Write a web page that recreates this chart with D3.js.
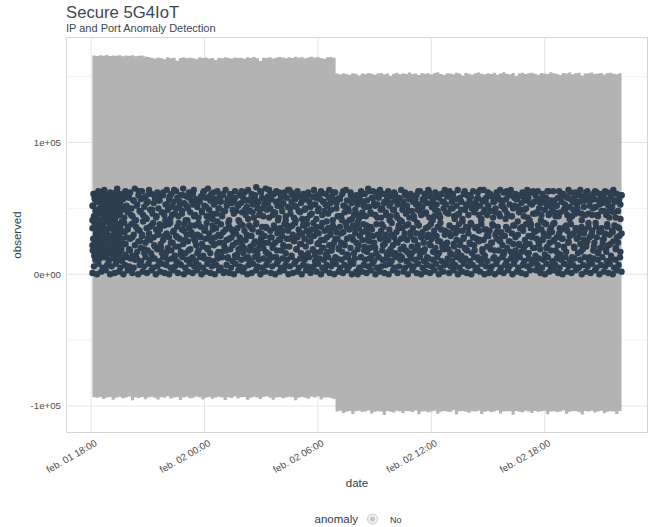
<!DOCTYPE html>
<html>
<head>
<meta charset="utf-8">
<script src="https://cdn.jsdelivr.net/npm/d3@7"></script>
<style>
    html, body { margin: 0; padding: 0; background: #fff; }
    svg { display: block; font-family: "Liberation Sans", Arial, sans-serif; }
</style>
</head>
<body>
<div id="chart"></div>
<script>
"use strict";

// ------------------------- Data (values in thousands) -------------------------

const seriesStart = new Date(2021, 1, 1, 18, 4);
const bandStepTime = new Date(2021, 1, 2, 6, 56);
const seriesEnd = new Date(2021, 1, 2, 22, 4);
const earlyEnd = new Date(2021, 1, 1, 19, 40);

const xTickTimes = [
    new Date(2021, 1, 1, 18, 0),
    new Date(2021, 1, 2, 0, 0),
    new Date(2021, 1, 2, 6, 0),
    new Date(2021, 1, 2, 12, 0),
    new Date(2021, 1, 2, 18, 0)
];
const xTickLabels = ['feb. 01 18:00', 'feb. 02 00:00', 'feb. 02 06:00', 'feb. 02 12:00', 'feb. 02 18:00'];

const yTickValues = [100000, 0, -100000];
const yTickLabels = ['1e+05', '0e+00', '-1e+05'];
const yMinorValues = [150000, 50000, -50000];

const upperBeforeK = [
    166.0, 165.7, 166.2, 165.9, 166.4, 165.6, 166.1, 165.8, 166.3, 165.5, 166.0, 165.9, 166.2, 165.4, 165.8, 166.1, 165.3, 164.9,
    164.4, 163.7, 164.5, 164.1, 163.2, 164.6, 164.0, 164.4, 162.1, 164.2, 164.7, 163.9, 164.3, 164.0, 163.4, 164.6, 164.1, 164.5,
    163.8, 164.2, 162.6, 164.4, 164.0, 164.7, 164.2, 163.7, 164.5, 164.1, 164.3, 163.5, 164.6, 164.2, 164.8, 164.0, 161.9, 164.4,
    164.1, 164.6, 163.8, 164.3, 164.9, 164.5, 164.0, 164.6, 164.2, 165.0, 164.4, 164.7, 163.9, 164.5, 165.1, 164.3, 164.8, 164.2,
    163.6, 164.6, 164.9, 164.4, 164.7
];
const upperAfterK = [
    152.3, 151.6, 152.5, 152.0, 151.4, 152.6, 152.2, 150.8, 152.4, 151.9, 152.7, 152.1, 151.5, 152.3, 152.8, 151.8, 152.4, 150.6,
    152.2, 152.9, 151.7, 152.5, 152.0, 153.1, 151.9, 152.4, 151.3, 152.7, 152.1, 152.5, 151.6, 152.8, 153.3, 152.0, 151.2, 152.6,
    152.3, 151.8, 153.0, 152.4, 150.9, 152.7, 152.2, 151.6, 152.5, 153.2, 152.1, 151.7, 152.6, 152.0, 152.9, 151.4, 152.3, 153.4,
    152.2, 151.8, 152.7, 150.7, 152.4, 152.9, 151.9, 152.5, 153.0, 152.2, 151.5, 152.8, 152.3, 151.9, 153.3, 152.6, 152.0, 151.3,
    152.7, 152.4, 153.1, 151.8, 152.5, 152.9, 150.8, 152.3, 152.6, 153.2, 151.9, 152.4, 152.8, 151.6, 152.5, 153.0, 152.2, 151.7,
    152.6, 152.3
];
const lowerBeforeK = [
    -93.4, -93.8, -93.1, -94.6, -93.5, -93.2, -95.3, -93.7, -93.0, -94.1, -93.6, -92.8, -95.6, -93.4, -93.9, -93.2, -94.8, -93.5,
    -92.9, -93.7, -95.1, -93.3, -93.8, -92.6, -94.3, -93.5, -93.1, -95.4, -93.6, -93.0, -94.0, -93.7, -92.7, -93.4, -95.0, -93.8,
    -93.2, -94.5, -93.5, -92.9, -93.6, -95.5, -93.3, -93.9, -92.8, -94.2, -93.4, -93.1, -95.2, -93.7, -93.0, -93.6, -94.7, -93.2,
    -92.6, -93.8, -95.3, -93.5, -93.1, -94.1, -93.6, -92.9, -93.4, -95.6, -93.8, -93.2, -93.7, -94.4, -93.0, -93.5, -92.7, -95.1,
    -93.6, -93.3, -93.9, -94.6, -93.4
];
const lowerAfterK = [
    -104.1, -103.6, -105.2, -104.3, -103.8, -106.1, -104.0, -103.5, -104.6, -104.2, -103.3, -105.7, -104.4, -103.9, -104.1, -106.8,
    -103.7, -104.3, -104.9, -103.6, -104.2, -105.4, -103.8, -104.0, -104.5, -103.4, -106.3, -104.1, -103.9, -104.7, -104.2, -103.5,
    -105.9, -104.3, -103.8, -104.1, -104.6, -103.2, -106.5, -104.0, -103.7, -104.4, -105.1, -103.9, -104.2, -103.6, -106.0, -104.3,
    -103.8, -104.5, -104.1, -103.4, -105.6, -104.2, -103.9, -104.0, -106.7, -103.7, -104.3, -104.8, -103.5, -104.1, -105.3, -103.8,
    -104.4, -104.0, -103.6, -106.2, -104.2, -103.9, -104.6, -104.1, -103.3, -105.8, -104.3, -103.7, -104.0, -104.5, -106.4, -103.8,
    -104.2, -103.6, -104.9, -104.1, -103.5, -105.5, -104.3, -103.9, -104.2, -106.1, -103.7, -104.0
];

// observed ports, low band (0-13k)
const portsLowK = [
    1, 6, 11, 0, 8, 12, 2, 5, 13, 3, 7, 10, 0, 6, 12, 1, 8, 11, 2, 5, 10, 0, 7, 13, 3, 6, 12, 1, 5, 11,
    12, 0, 7, 10, 2, 6, 13, 1, 8, 11, 3, 5, 12, 0, 6, 10, 2, 8, 13, 1, 7, 11, 0, 5, 12, 3, 6, 10, 1, 8,
    7, 13, 0, 5, 11, 2, 8, 12, 1, 6, 10, 3, 7, 13, 0, 5, 12, 2, 8, 11, 1, 6, 10, 0, 7, 12, 3, 5, 13, 1,
    2, 7, 12, 1, 5, 10, 0, 8, 13, 3, 6, 11, 2, 5, 12, 0, 7, 10, 1, 8, 13, 3, 6, 11, 0, 5, 12, 2, 7, 10,
    11, 1, 6, 13, 0, 8, 10, 2, 5, 12, 3, 7, 11, 0, 6, 13, 1, 8, 10, 2, 5, 12, 0, 7, 11, 3, 6, 13, 1, 5,
    6, 10, 2, 8, 12, 0, 5, 11, 3, 7, 13, 1, 6, 10, 0, 8, 12, 2, 5, 11, 1, 7, 13, 3, 6, 10, 0, 8, 12, 2,
    0, 5, 13, 2, 7, 11, 1, 6, 12, 3, 8, 10, 0, 5, 13, 2, 6, 11, 1, 7, 12, 0, 8, 10, 3, 5, 13, 1, 6, 11,
    13, 2, 5, 10, 0, 7, 12, 3, 6, 11, 1, 8, 13, 0, 5, 10, 2, 7, 12, 1, 6, 11, 3, 8, 13, 0, 5, 10, 2, 7,
    8, 12, 1, 6, 10, 3, 7, 13, 0, 5, 11, 2, 8, 12, 1, 6, 10, 0, 7, 13, 3, 5, 11, 2, 8, 12, 0, 6, 10, 1,
    3, 6, 12, 0, 8, 11, 2, 5, 13, 1, 7, 10, 3, 6, 12, 0, 8, 11, 2, 5, 13, 1, 7, 10, 0, 6, 12, 3, 8, 11,
    10, 3, 7, 12, 1, 5, 11, 0, 8, 13, 2, 6, 10, 3, 7, 12, 1, 5, 11, 0, 8, 13, 2, 6, 10, 1, 7, 12, 3, 5,
    5, 11, 0, 7, 13, 2, 6, 10, 1, 8, 12, 3, 5, 11, 0, 7, 13, 2, 6, 10, 1, 8, 12, 0, 5, 11, 3, 7, 13, 2
];

// observed ports, middle band (13-40k)
const portsMidK = [
    22, 35, 17, 28, 39, 14, 31, 25, 19, 37, 27, 15, 33, 21, 29, 38, 16, 24, 34, 20, 30, 13, 26, 36, 18, 32, 23, 39, 15, 28,
    34, 19, 27, 38, 14, 30, 22, 36, 17, 25, 33, 20, 29, 40, 16, 24, 35, 18, 31, 26, 37, 13, 28, 21, 34, 19, 30, 38, 23, 16,
    26, 37, 15, 31, 20, 28, 39, 18, 24, 33, 14, 29, 36, 21, 27, 17, 34, 23, 38, 16, 30, 25, 35, 19, 32, 13, 27, 37, 22, 30,
    18, 29, 36, 23, 14, 33, 27, 39, 20, 31, 16, 25, 37, 22, 28, 35, 15, 30, 24, 38, 17, 32, 21, 34, 26, 13, 36, 19, 28, 33,
    31, 14, 24, 35, 19, 28, 38, 22, 16, 33, 26, 30, 13, 37, 21, 29, 34, 18, 25, 39, 15, 32, 23, 27, 36, 20, 29, 17, 35, 24,
    15, 33, 28, 20, 37, 24, 13, 31, 26, 35, 18, 29, 22, 38, 16, 27, 33, 21, 36, 14, 30, 25, 39, 19, 28, 34, 23, 16, 31, 37,
    27, 21, 38, 16, 30, 25, 34, 19, 29, 14, 36, 23, 31, 17, 26, 39, 20, 33, 15, 28, 35, 22, 30, 18, 37, 24, 13, 32, 27, 20,
    36, 24, 17, 32, 22, 39, 27, 14, 34, 20, 28, 37, 16, 31, 24, 19, 35, 29, 13, 26, 38, 21, 33, 17, 30, 25, 36, 14, 29, 22,
    20, 38, 30, 13, 27, 33, 18, 36, 23, 30, 15, 26, 34, 19, 39, 22, 28, 16, 32, 24, 37, 14, 27, 35, 21, 31, 18, 26, 38, 15,
    29, 16, 35, 26, 18, 31, 22, 37, 14, 28, 32, 24, 19, 35, 13, 30, 23, 38, 27, 17, 33, 20, 29, 36, 16, 25, 34, 22, 19, 30,
    23, 32, 19, 37, 29, 15, 35, 21, 31, 26, 17, 38, 25, 14, 33, 28, 20, 36, 18, 31, 24, 39, 16, 28, 22, 35, 27, 13, 33, 26,
    38, 17, 26, 14, 34, 21, 29, 33, 19, 24, 37, 13, 30, 27, 36, 18, 25, 32, 22, 15, 29, 36, 20, 34, 25, 17, 31, 23, 37, 18,
    14, 30, 23, 35, 17, 36, 20, 26, 38, 16, 29, 23, 35, 28, 20, 32, 14, 27, 37, 23, 19, 34, 26, 31, 15, 38, 21, 29, 24, 35,
    32, 25, 39, 18, 28, 22, 31, 15, 34, 27, 21, 36, 17, 33, 24, 29, 38, 13, 31, 20, 35, 27, 16, 32, 23, 36, 19, 26, 34, 21,
    25, 36, 13, 29, 33, 18, 24, 39, 28, 16, 32, 20, 35, 23, 27, 31, 17, 36, 22, 30, 14, 33, 25, 37, 19, 28, 24, 35, 17, 31
];

// observed ports, high band (40-66k)
const portsHighK = [
    52, 61, 44, 57, 48, 63, 41, 55, 59, 46, 64, 50, 43, 58, 53, 62, 47, 56, 42, 60, 51, 65, 45, 54, 49, 61, 57, 43, 63, 52,
    47, 58, 62, 50, 44, 56, 65, 41, 53, 60, 48, 57, 63, 45, 51, 59, 42, 55, 64, 49, 61, 46, 54, 58, 43, 62, 50, 56, 60, 47,
    60, 45, 53, 64, 49, 57, 42, 61, 51, 55, 46, 63, 58, 44, 52, 60, 48, 65, 54, 41, 59, 50, 62, 47, 56, 53, 64, 45, 57, 51,
    43, 55, 59, 47, 62, 52, 58, 44, 65, 49, 56, 61, 42, 53, 57, 46, 63, 50, 59, 55, 44, 60, 48, 64, 52, 57, 41, 61, 54, 49,
    56, 63, 48, 53, 41, 60, 54, 47, 58, 62, 45, 51, 64, 56, 48, 61, 53, 43, 57, 66, 50, 55, 46, 62, 58, 44, 53, 65, 49, 59,
    64, 50, 57, 45, 61, 47, 63, 52, 43, 56, 59, 48, 54, 62, 41, 58, 51, 64, 46, 55, 60, 43, 57, 51, 63, 48, 59, 54, 42, 61,
    49, 57, 42, 62, 55, 51, 46, 59, 64, 53, 42, 60, 50, 57, 63, 45, 55, 48, 61, 52, 46, 64, 54, 59, 41, 56, 62, 50, 57, 44,
    58, 44, 61, 52, 47, 64, 56, 50, 41, 62, 54, 58, 45, 49, 60, 53, 42, 57, 63, 47, 52, 61, 44, 56, 65, 51, 47, 58, 63, 54,
    45, 62, 53, 58, 64, 43, 50, 61, 55, 47, 57, 63, 52, 44, 59, 49, 62, 56, 45, 53, 58, 41, 64, 49, 55, 60, 46, 52, 59, 43,
    61, 48, 55, 42, 57, 60, 49, 53, 63, 45, 51, 56, 61, 47, 54, 64, 43, 59, 51, 57, 44, 62, 53, 48, 58, 43, 61, 55, 50, 64,
    53, 59, 46, 63, 50, 55, 61, 44, 57, 52, 64, 46, 58, 55, 42, 61, 49, 53, 60, 45, 56, 59, 50, 63, 47, 54, 57, 62, 45, 52,
    42, 56, 64, 49, 58, 45, 52, 60, 48, 59, 43, 55, 50, 62, 57, 46, 64, 52, 55, 62, 49, 57, 46, 60, 53, 64, 44, 50, 58, 61,
    57, 51, 47, 60, 54, 62, 44, 56, 50, 64, 58, 41, 62, 53, 46, 55, 60, 47, 63, 50, 54, 45, 61, 56, 49, 58, 52, 63, 46, 56,
    50, 63, 56, 44, 52, 58, 63, 47, 55, 61, 49, 53, 59, 45, 64, 51, 57, 44, 49, 58, 62, 53, 47, 55, 64, 46, 59, 51, 56, 62,
    63, 46, 52, 59, 45, 61, 57, 51, 62, 44, 56, 60, 48, 54, 58, 63, 45, 62, 56, 48, 59, 51, 64, 55, 43, 61, 48, 57, 53, 60
];

// observed ports, spread over the whole range (14-64k)
const portsWideK = [
    41, 27, 58, 19, 46, 33, 62, 24, 51, 37, 15, 55, 29, 44, 60, 21, 48, 35, 57, 17, 42, 31, 63, 26, 53, 38, 20, 49, 59, 32,
    23, 50, 36, 61, 18, 45, 28, 56, 40, 14, 52, 34, 63, 25, 47, 30, 58, 19, 43, 54, 27, 61, 36, 16, 49, 39, 22, 57, 44, 31,
    56, 34, 20, 47, 62, 29, 41, 17, 53, 38, 59, 24, 45, 32, 64, 21, 50, 28, 39, 55, 15, 46, 60, 33, 26, 52, 41, 18, 58, 37,
    30, 61, 44, 25, 53, 16, 39, 57, 28, 48, 21, 63, 35, 51, 19, 43, 59, 27, 46, 34, 62, 23, 55, 40, 17, 50, 29, 45, 61, 24,
    48, 18, 55, 39, 27, 60, 34, 22, 46, 58, 31, 15, 52, 40, 26, 63, 37, 20, 49, 56, 29, 42, 18, 57, 35, 47, 23, 60, 38, 53,
    19, 45, 63, 31, 50, 24, 57, 36, 16, 54, 43, 28, 61, 22, 47, 35, 55, 18, 41, 62, 26, 51, 33, 59, 21, 44, 37, 64, 27, 50,
    62, 37, 26, 52, 41, 19, 59, 30, 47, 23, 56, 38, 14, 50, 33, 60, 25, 45, 53, 29, 39, 17, 58, 32, 48, 24, 61, 36, 20, 55,
    26, 53, 40, 17, 58, 33, 49, 21, 62, 35, 27, 54, 44, 19, 57, 31, 41, 63, 23, 51, 36, 15, 48, 28, 60, 42, 26, 56, 34, 46,
    39, 22, 60, 44, 32, 55, 18, 51, 37, 26, 63, 20, 46, 34, 58, 24, 52, 16, 43, 61, 30, 49, 38, 22, 54, 27, 45, 59, 17, 41,
    54, 30, 15, 49, 61, 25, 43, 35, 57, 19, 40, 52, 28, 62, 37, 17, 48, 57, 32, 21, 59, 44, 26, 53, 39, 63, 18, 47, 30, 57,
    17, 58, 46, 28, 36, 62, 22, 54, 41, 30, 49, 16, 59, 25, 45, 39, 61, 20, 55, 33, 47, 24, 62, 31, 16, 58, 50, 23, 42, 35,
    45, 33, 57, 22, 49, 40, 27, 63, 19, 52, 35, 60, 23, 38, 53, 28, 18, 50, 36, 58, 25, 64, 41, 19, 47, 34, 55, 29, 62, 21,
    61, 24, 38, 55, 18, 47, 32, 59, 26, 44, 56, 29, 51, 17, 42, 63, 34, 25, 60, 44, 15, 37, 52, 28, 57, 40, 22, 49, 35, 59,
    33, 49, 22, 60, 43, 16, 54, 38, 29, 63, 20, 46, 33, 57, 24, 50, 41, 58, 27, 39, 54, 20, 63, 45, 33, 18, 52, 38, 26, 47,
    52, 16, 44, 35, 59, 27, 61, 20, 48, 37, 58, 25, 42, 62, 30, 55, 21, 46, 35, 50, 28, 60, 17, 41, 56, 31, 45, 23, 59, 39,
    28, 56, 31, 50, 21, 63, 36, 45, 17, 53, 32, 61, 26, 48, 57, 19, 38, 52, 43, 23, 61, 32, 47, 56, 20, 36, 55, 29, 42, 60
];

// observed ports, dense burst at the start of the series
const portsEarlyK = [
    35, 18, 52, 27, 61, 44, 14, 39, 57, 23, 48, 31, 60, 20, 45, 55, 16, 37, 29, 58, 42, 25, 50, 62, 33, 15, 47, 38, 56, 21,
    41, 59, 26, 53, 17, 36, 49, 28, 62, 43, 19, 54, 32, 46, 24, 58, 13, 40, 51, 30, 60, 22, 45, 35, 57, 17, 48, 27, 39, 55,
    20, 43, 61, 29, 50, 15, 37, 56, 24, 46, 33, 59, 18, 41, 52, 26, 62, 35, 44, 14, 54, 31, 47, 22, 58, 38, 16, 49, 28, 60,
    45, 23, 53, 34, 19, 57, 40, 27, 51, 13
];

// ------------------------- Layout -------------------------

const width = 652;
const height = 527;
const margin = { top: 37, right: 4, bottom: 94, left: 66 };
const innerWidth = width - margin.left - margin.right;
const innerHeight = height - margin.top - margin.bottom;

const BLUE = '#2c3e50';
const RIBBON = '#b3b3b3';

const svg = d3.select('#chart')
    .append('svg')
    .attr('width', width)
    .attr('height', height);

// ------------------------- Helpers -------------------------

function spread(values, from, to) {
    const span = to - from;
    const last = Math.max(values.length - 1, 1);
    return values.map((v, i) => ({ date: new Date(+from + span * i / last), value: v * 1000 }));
}

function expand(extent, mult) {
    const pad = (extent[1] - extent[0]) * mult;
    return [extent[0] - pad, extent[1] + pad];
}

const upperBand = spread(upperBeforeK, seriesStart, bandStepTime)
    .concat(spread(upperAfterK, bandStepTime, seriesEnd));
const lowerBand = spread(lowerBeforeK, seriesStart, bandStepTime)
    .concat(spread(lowerAfterK, bandStepTime, seriesEnd));

const observed = []
    .concat(spread(portsLowK, seriesStart, seriesEnd))
    .concat(spread(portsMidK, seriesStart, seriesEnd))
    .concat(spread(portsHighK, seriesStart, seriesEnd))
    .concat(spread(portsWideK, seriesStart, seriesEnd))
    .concat(spread(portsEarlyK, seriesStart, earlyEnd));

// ------------------------- Scales -------------------------

const x = d3.scaleTime()
    .domain(expand([+seriesStart, +seriesEnd], 0.05).map(t => new Date(t)))
    .range([margin.left, margin.left + innerWidth]);

const yExtent = [
    d3.min(lowerBand, d => d.value),
    d3.max(upperBand, d => d.value)
];

const y = d3.scaleLinear()
    .domain(expand(yExtent, 0.05))
    .range([margin.top + innerHeight, margin.top]);

// ------------------------- Panel & grid -------------------------

const grid = svg.append('g').attr('class', 'grid');

grid.selectAll('.minor-y')
    .data(yMinorValues)
    .enter()
    .append('line')
    .attr('x1', margin.left)
    .attr('x2', margin.left + innerWidth)
    .attr('y1', d => y(d))
    .attr('y2', d => y(d))
    .attr('stroke', '#ececec')
    .attr('stroke-width', 0.6);

grid.selectAll('.major-y')
    .data(yTickValues)
    .enter()
    .append('line')
    .attr('x1', margin.left)
    .attr('x2', margin.left + innerWidth)
    .attr('y1', d => y(d))
    .attr('y2', d => y(d))
    .attr('stroke', '#e6e6e6')
    .attr('stroke-width', 1);

grid.selectAll('.major-x')
    .data(xTickTimes)
    .enter()
    .append('line')
    .attr('x1', d => x(d))
    .attr('x2', d => x(d))
    .attr('y1', margin.top)
    .attr('y2', margin.top + innerHeight)
    .attr('stroke', '#e6e6e6')
    .attr('stroke-width', 1);

// ------------------------- Ribbon -------------------------

const upperArea = d3.area()
    .curve(d3.curveStepAfter)
    .x(d => x(d.date))
    .y0(y(0) + 1)
    .y1(d => y(d.value));

const lowerArea = d3.area()
    .curve(d3.curveStepAfter)
    .x(d => x(d.date))
    .y0(y(0) - 1)
    .y1(d => y(d.value));

svg.append('path')
    .datum(upperBand)
    .attr('fill', RIBBON)
    .attr('d', upperArea);

svg.append('path')
    .datum(lowerBand)
    .attr('fill', RIBBON)
    .attr('d', lowerArea);

// ------------------------- Observed points -------------------------

svg.append('g')
    .selectAll('circle')
    .data(observed)
    .enter()
    .append('circle')
    .attr('cx', d => x(d.date))
    .attr('cy', d => y(d.value))
    .attr('r', 3.2)
    .attr('fill', BLUE);

// panel border on top
svg.append('rect')
    .attr('x', margin.left + 0.5)
    .attr('y', margin.top + 0.5)
    .attr('width', innerWidth - 1)
    .attr('height', innerHeight - 1)
    .attr('fill', 'none')
    .attr('stroke', '#d6d6d6')
    .attr('stroke-width', 1);

// ------------------------- Axes -------------------------

svg.append('g')
    .selectAll('text')
    .data(yTickValues)
    .enter()
    .append('text')
    .attr('x', margin.left - 5)
    .attr('y', d => y(d))
    .attr('dy', '0.35em')
    .attr('text-anchor', 'end')
    .attr('font-size', 9.7)
    .attr('fill', '#4d4d4d')
    .text((d, i) => yTickLabels[i]);

svg.append('g')
    .selectAll('text')
    .data(xTickTimes)
    .enter()
    .append('text')
    .attr('transform', d => `translate(${x(d) + 3},${margin.top + innerHeight + 6}) rotate(-30)`)
    .attr('dy', '0.72em')
    .attr('text-anchor', 'end')
    .attr('font-size', 9.7)
    .attr('fill', '#4d4d4d')
    .text((d, i) => xTickLabels[i]);

svg.append('text')
    .attr('transform', `translate(21,${margin.top + innerHeight / 2}) rotate(-90)`)
    .attr('text-anchor', 'middle')
    .attr('font-size', 11.5)
    .attr('fill', BLUE)
    .text('observed');

svg.append('text')
    .attr('x', margin.left + innerWidth / 2)
    .attr('y', 487)
    .attr('text-anchor', 'middle')
    .attr('font-size', 11.5)
    .attr('fill', BLUE)
    .text('date');

// ------------------------- Titles -------------------------

svg.append('text')
    .attr('x', 66)
    .attr('y', 17.5)
    .attr('font-size', 16.7)
    .attr('fill', '#3c4752')
    .text('Secure 5G4IoT');

svg.append('text')
    .attr('x', 66)
    .attr('y', 32)
    .attr('font-size', 11)
    .attr('fill', '#3c4752')
    .text('IP and Port Anomaly Detection');

// ------------------------- Legend -------------------------

const legend = svg.append('g').attr('transform', 'translate(0,519)');

legend.append('text')
    .attr('x', 358)
    .attr('y', 4)
    .attr('text-anchor', 'end')
    .attr('font-size', 11.5)
    .attr('fill', BLUE)
    .text('anomaly');

legend.append('circle')
    .attr('cx', 372.5)
    .attr('cy', 0)
    .attr('r', 5)
    .attr('fill', '#f4f4f4')
    .attr('stroke', '#bdbdbd')
    .attr('stroke-width', 0.8);

legend.append('circle')
    .attr('cx', 372.5)
    .attr('cy', 0)
    .attr('r', 2.6)
    .attr('fill', '#c6c6c6');

legend.append('text')
    .attr('x', 390)
    .attr('y', 3.5)
    .attr('font-size', 9)
    .attr('fill', BLUE)
    .text('No');
</script>
</body>
</html>
